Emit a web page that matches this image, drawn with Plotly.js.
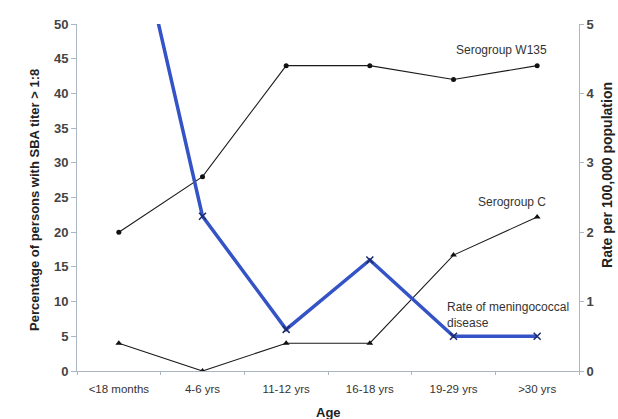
<!DOCTYPE html>
<html>
<head>
<meta charset="utf-8">
<script src="https://cdn.plot.ly/plotly-3.0.1.min.js"></script>
<style>html,body{margin:0;padding:0;background:#fff;}#chart{width:618px;height:419px;}</style>
</head>
<body>
<div id="chart"></div>
<script>
var ageGroups = ['<18 months', '4-6 yrs', '11-12 yrs', '16-18 yrs', '19-29 yrs', '>30 yrs'];
var serogroupW135 = [20, 28, 44, 44, 42, 44];
var serogroupC = [4, 0, 4, 4, 16.7, 22.2];
var diseaseRate = [7.5, 2.23, 0.6, 1.6, 0.5, 0.5];
var leftTicks = [0, 5, 10, 15, 20, 25, 30, 35, 40, 45, 50];
var rightTicks = [0, 1, 2, 3, 4, 5];

var font = 'Liberation Sans, Arial, sans-serif';

var traces = [
  {
    x: ageGroups, y: serogroupW135, type: 'scatter', mode: 'lines+markers',
    line: {color: '#1a1a1a', width: 1.1},
    marker: {symbol: 'circle', size: 5, color: '#111'},
    hoverinfo: 'skip', showlegend: false
  },
  {
    x: ageGroups, y: serogroupC, type: 'scatter', mode: 'lines+markers',
    line: {color: '#1a1a1a', width: 1.1},
    marker: {symbol: 'triangle-up', size: 6, color: '#111'},
    hoverinfo: 'skip', showlegend: false
  },
  {
    x: ageGroups, y: diseaseRate, type: 'scatter', mode: 'lines+markers', yaxis: 'y2',
    line: {color: '#3453c6', width: 3.5},
    marker: {symbol: 'x-thin-open', size: 7, color: '#1c2a6a', line: {width: 1.5, color: '#1c2a6a'}},
    hoverinfo: 'skip', showlegend: false
  }
];

var annFont = {family: font, size: 12, color: '#333'};
var titleFont = {family: font, size: 13, color: '#222'};

var layout = {
  width: 618, height: 419,
  margin: {l: 77, r: 39, t: 24, b: 48},
  paper_bgcolor: '#ffffff', plot_bgcolor: '#ffffff',
  font: {family: font, color: '#333', size: 11},
  xaxis: {
    type: 'category', categoryorder: 'array', categoryarray: ageGroups,
    range: [-0.5, 5.5], showgrid: false, zeroline: false,
    showline: true, linecolor: '#aab6c4', linewidth: 1,
    ticks: 'outside', tickson: 'boundaries', ticklen: 3, tickcolor: '#aab6c4',
    ticklabelstandoff: 7,
    tickfont: {family: font, size: 11.5, color: '#333'}
  },
  yaxis: {
    range: [0, 50], tickvals: leftTicks, showgrid: false, zeroline: false,
    showline: true, linecolor: '#aab6c4', linewidth: 1,
    ticks: 'outside', ticklen: 5, tickcolor: '#aab6c4',
    tickfont: {family: font, size: 13, color: '#444', weight: 'bold'}
  },
  yaxis2: {
    overlaying: 'y', side: 'right', range: [0, 5], tickvals: rightTicks,
    showgrid: false, zeroline: false,
    showline: true, linecolor: '#aab6c4', linewidth: 1,
    ticks: 'outside', ticklen: 4, tickcolor: '#aab6c4',
    tickfont: {family: font, size: 13, color: '#444', weight: 'bold'}
  },
  annotations: [
    {x: 4.0, y: 46.2, xref: 'x', yref: 'y', text: 'Serogroup W135', showarrow: false, xanchor: 'left', yanchor: 'middle', font: annFont},
    {x: 4.27, y: 24.3, xref: 'x', yref: 'y', text: 'Serogroup C', showarrow: false, xanchor: 'left', yanchor: 'middle', font: annFont},
    {x: 3.9, y: 8.0, xref: 'x', yref: 'y', text: 'Rate of meningococcal<br>disease', align: 'left', showarrow: false, xanchor: 'left', yanchor: 'middle', font: annFont},
    {x: -0.0837, y: 0.493, xref: 'paper', yref: 'paper', text: '<b>Percentage of persons with SBA titer > 1:8</b>', textangle: -90, showarrow: false, xanchor: 'center', yanchor: 'middle', font: titleFont},
    {x: 1.0558, y: 0.565, xref: 'paper', yref: 'paper', text: '<b>Rate per 100,000 population</b>', textangle: -90, showarrow: false, xanchor: 'center', yanchor: 'middle', font: {family: font, size: 14, color: '#222'}},
    {x: 0.5, y: -0.121, xref: 'paper', yref: 'paper', text: '<b>Age</b>', showarrow: false, xanchor: 'center', yanchor: 'middle', font: titleFont}
  ]
};

Plotly.newPlot('chart', traces, layout, {displayModeBar: false, staticPlot: true});
</script>
</body>
</html>
